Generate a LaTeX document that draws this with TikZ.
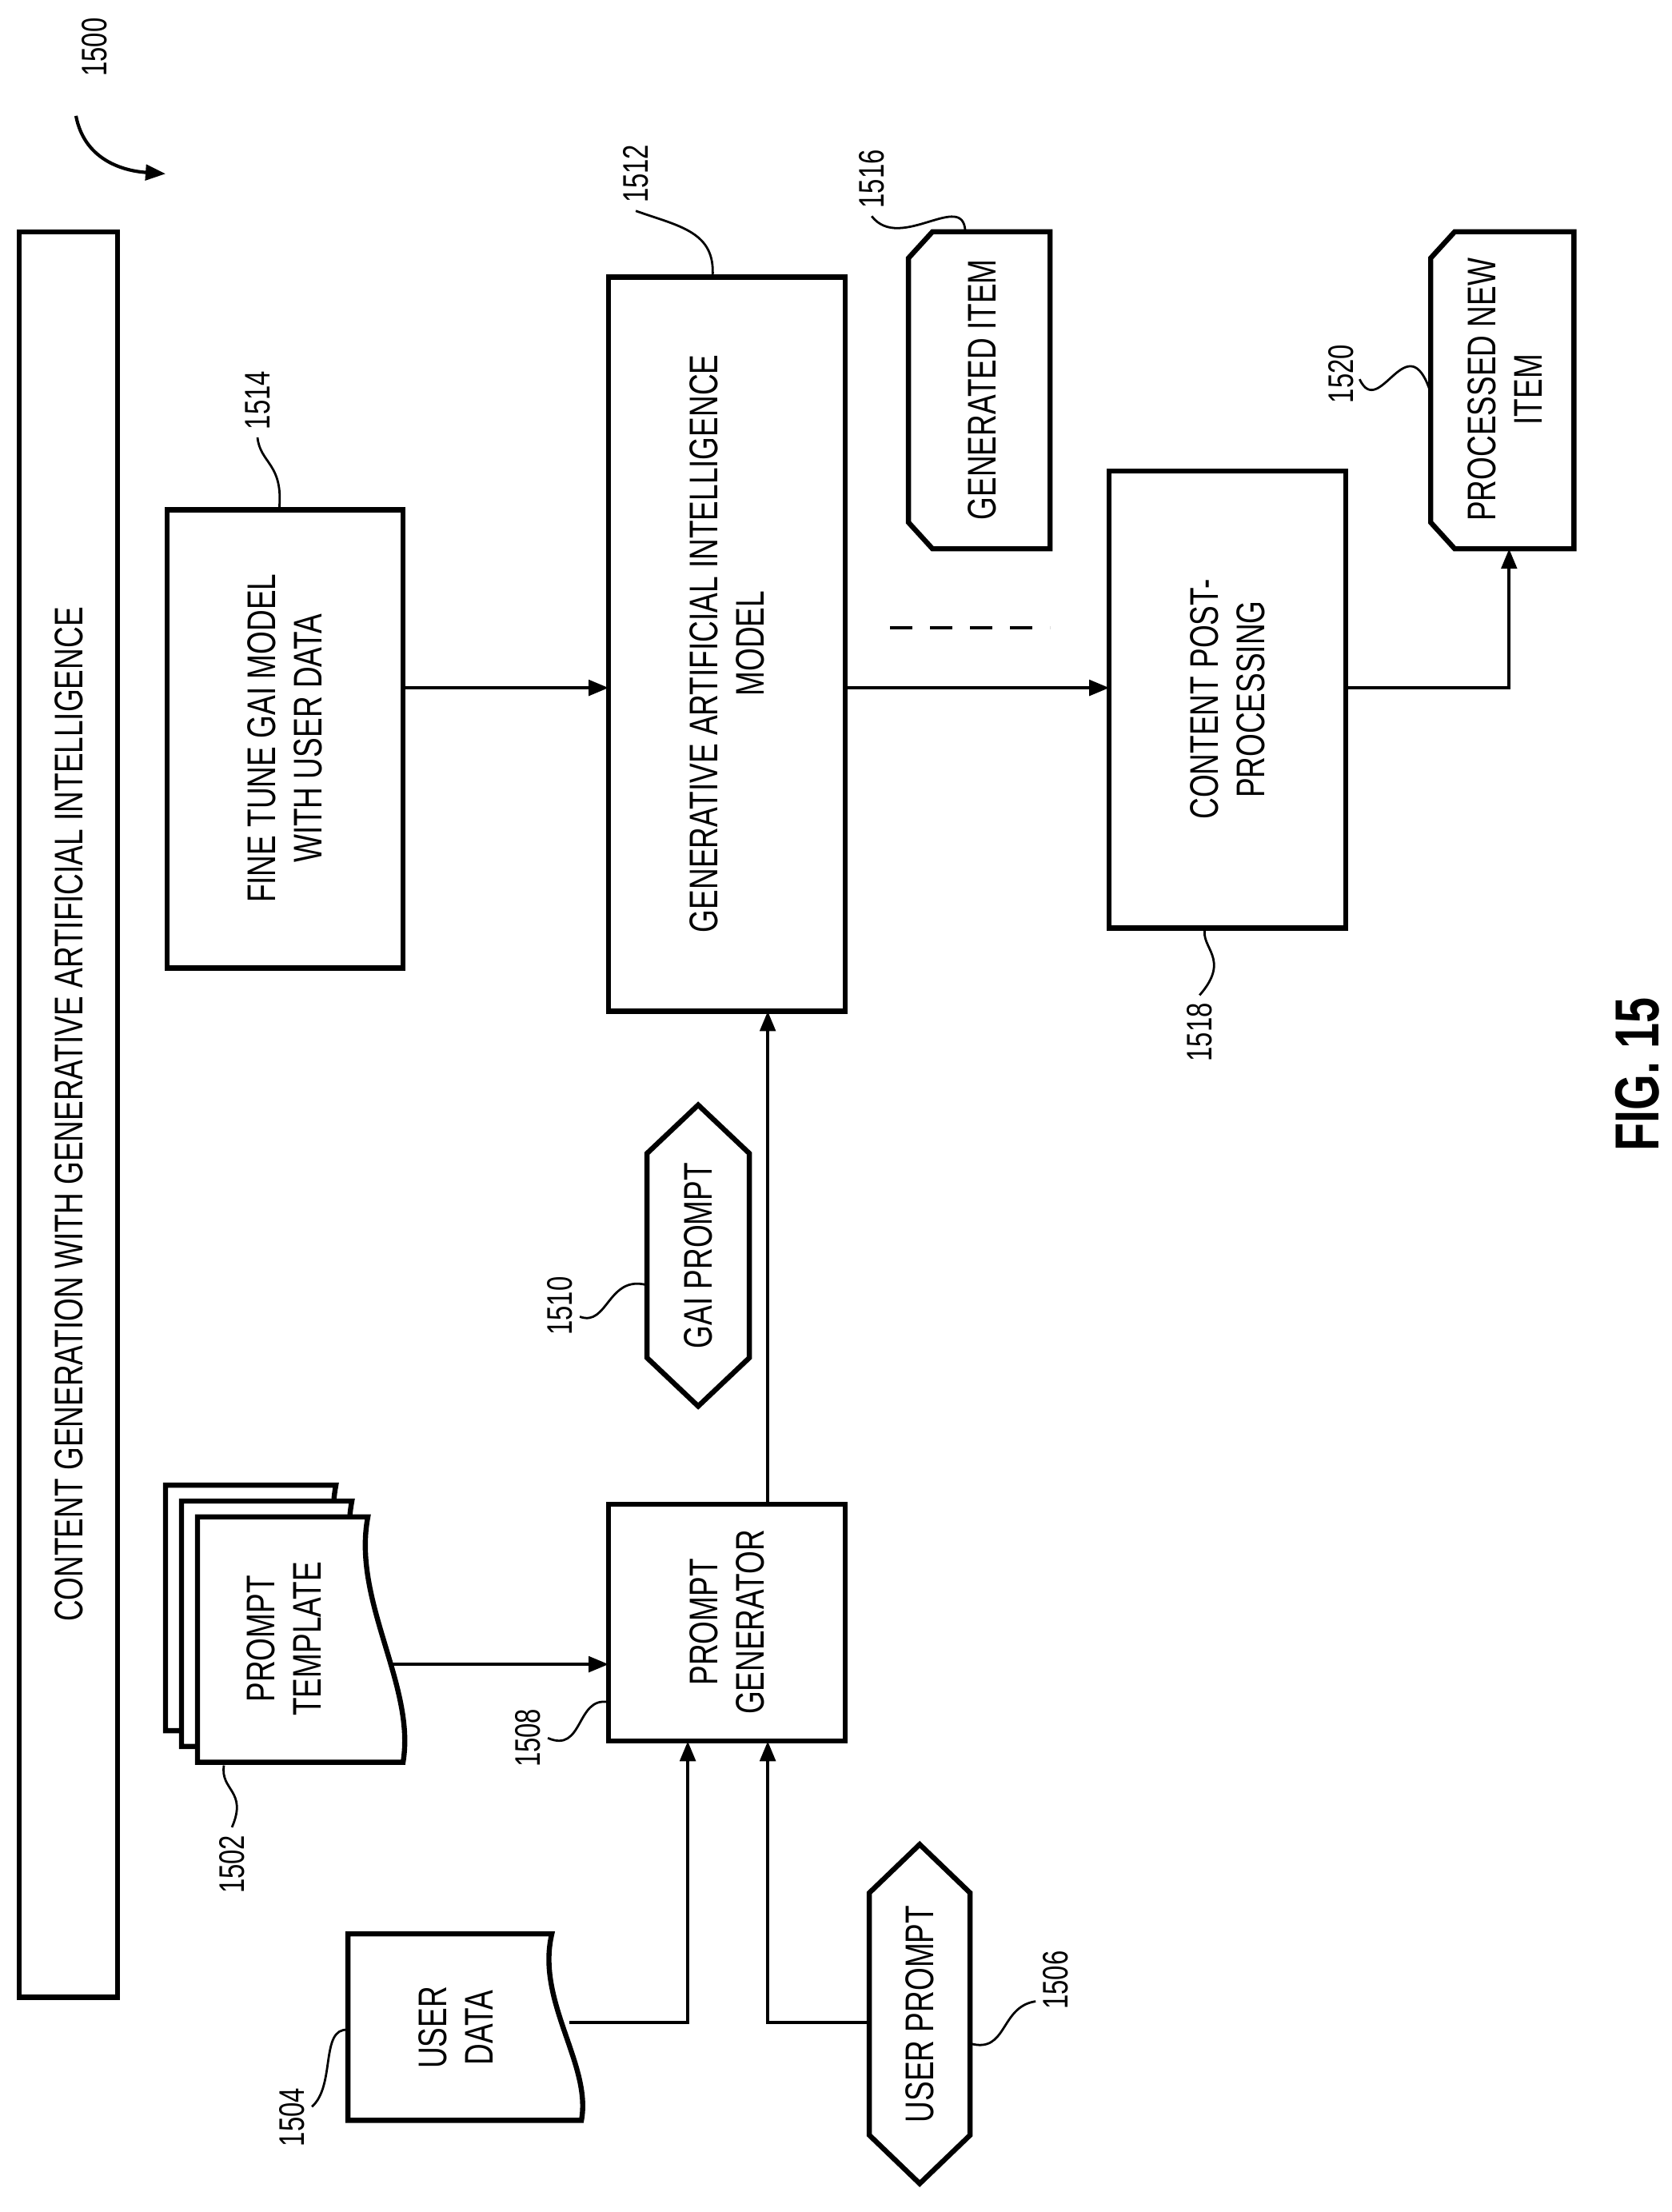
\documentclass[tikz,border=0pt]{standalone}
\usepackage{fontspec}
\setmainfont{Liberation Sans}[FakeStretch=0.74]
\usetikzlibrary{arrows.meta}
\begin{document}
\begin{tikzpicture}[x=0.36pt,y=-0.4741pt,
  box/.style={line width=2.3pt},
  arr/.style={line width=1.5pt,-{Triangle[length=9pt,width=7pt]}},
  ln/.style={line width=1.5pt},
  lead/.style={line width=1pt},
  txt/.style={rotate=90,align=center,font=\fontsize{18}{21}\selectfont},
  num/.style={rotate=90,font=\fontsize{16}{19}\selectfont}]
\useasboundingbox (0,0) rectangle (2090,2100);
% title bar
\draw[box] (24,220) rectangle (147,1896);
\node[txt] (title) at (86,1058) {CONTENT GENERATION WITH GENERATIVE ARTIFICIAL INTELLIGENCE};
% boxes
\draw[box] (209,484) rectangle (504,919);
\node[txt] (ft) at (356,701) {FINE TUNE GAI MODEL\\WITH USER DATA};
\draw[box] (761,263) rectangle (1057,960);
\node[txt] (gai) at (909,611) {GENERATIVE ARTIFICIAL INTELLIGENCE\\MODEL};
\draw[box] (1387,447) rectangle (1683,881);
\node[txt] (post) at (1535,664) {CONTENT POST-\\PROCESSING};
\draw[box] (761,1428) rectangle (1057,1653);
\node[txt] (pg) at (909,1540) {PROMPT\\GENERATOR};
% chamfered items
\draw[box] (1166,220) -- (1313,220) -- (1313,521) -- (1166,521) -- (1136,496) -- (1136,245) -- cycle;
\node[txt] (gen) at (1228,370) {GENERATED ITEM};
\draw[box] (1819,220) -- (1968,220) -- (1968,521) -- (1819,521) -- (1789,496) -- (1789,245) -- cycle;
\node[txt] (proc) at (1882,370) {PROCESSED NEW\\ITEM};
% hexagons
\draw[box] (873,1049) -- (937,1095) -- (937,1289) -- (873,1335) -- (809,1289) -- (809,1095) -- cycle;
\node[txt] (gp) at (873,1192) {GAI PROMPT};
\draw[box] (1150,1751) -- (1213,1797) -- (1213,2027) -- (1150,2073) -- (1087,2027) -- (1087,1797) -- cycle;
\node[txt] (up) at (1150,1912) {USER PROMPT};
% prompt template stack
\foreach \d/\e in {40/30,20/15}{
\draw[box,fill=white] (247-\d,1440-\e) -- (460-\d,1440-\e) .. controls (440-\d,1520-\e) and (520-\d,1600-\e) .. (504-\d,1673-\e) -- (247-\d,1673-\e) -- cycle;}
\draw[box,fill=white] (247,1440) -- (460,1440) .. controls (440,1520) and (520,1600) .. (504,1673) -- (247,1673) -- cycle;
\node[txt] (pt) at (355,1556) {PROMPT\\TEMPLATE};
\coordinate (ptr) at (487,1580);
% user data
\draw[box] (435,1836) -- (690,1836) .. controls (670,1900) and (740,1960) .. (727,2013) -- (435,2013) -- cycle;
\node[txt] (ud) at (570,1925) {USER\\DATA};
\coordinate (udr) at (712,1920);
% connectors
\draw[arr] (504,653) -- (761,653);
\draw[arr] (1057,653) -- (1387,653);
\draw[ln,dash pattern=on 10pt off 8pt] (1113,596) -- (1313,596);
\draw[arr] (1683,653) -- (1887,653) -- (1887,521);
\draw[arr] (ptr) -- (761,1580);
\draw[arr] (960,1428) -- (960,960);
\draw[arr] (udr) -- (860,1920) -- (860,1653);
\draw[arr] (1087,1920) -- (960,1920) -- (960,1653);
% 1500
\node[num] (n1500) at (118,45) {1500};
\draw[line width=1.5pt,-{Triangle[length=9pt,width=7pt]}] (95,110) .. controls (105,150) and (150,162) .. (207,165);
% reference numerals with leaders
\node[num] (n1514) at (322,380) {1514};
\draw[lead] (n1514.west) .. controls (325,440) and (355,440) .. (349,484);
\node[num] (n1512) at (795,165) {1512};
\draw[lead] (n1512.west) .. controls (850,215) and (895,220) .. (891,263);
\node[num] (n1516) at (1090,170) {1516};
\draw[lead] (n1516.west) .. controls (1125,240) and (1205,180) .. (1207,220);
\node[num] (n1520) at (1677,355) {1520};
\draw[lead] (1700,360) .. controls (1725,400) and (1760,305) .. (1789,373);
\node[num] (n1518) at (1500,980) {1518};
\draw[lead] (n1518.east) .. controls (1540,910) and (1500,900) .. (1507,881);
\node[num] (n1510) at (700,1240) {1510};
\draw[lead] (725,1250) .. controls (760,1260) and (760,1210) .. (809,1220);
\node[num] (n1508) at (660,1650) {1508};
\draw[lead] (685,1650) .. controls (730,1665) and (720,1610) .. (761,1616);
\node[num] (n1502) at (290,1770) {1502};
\draw[lead] (n1502.east) .. controls (310,1700) and (275,1700) .. (280,1676);
\node[num] (n1504) at (365,2010) {1504};
\draw[lead] (390,2000) .. controls (420,1980) and (400,1925) .. (435,1927);
\node[num] (n1506) at (1320,1880) {1506};
\draw[lead] (1213,1940) .. controls (1260,1950) and (1250,1905) .. (1295,1900);
% FIG
\node[rotate=90,font=\bfseries\fontsize{28}{32}\selectfont] (fig) at (2047,1020) {FIG. 15};
\end{tikzpicture}
\end{document}
